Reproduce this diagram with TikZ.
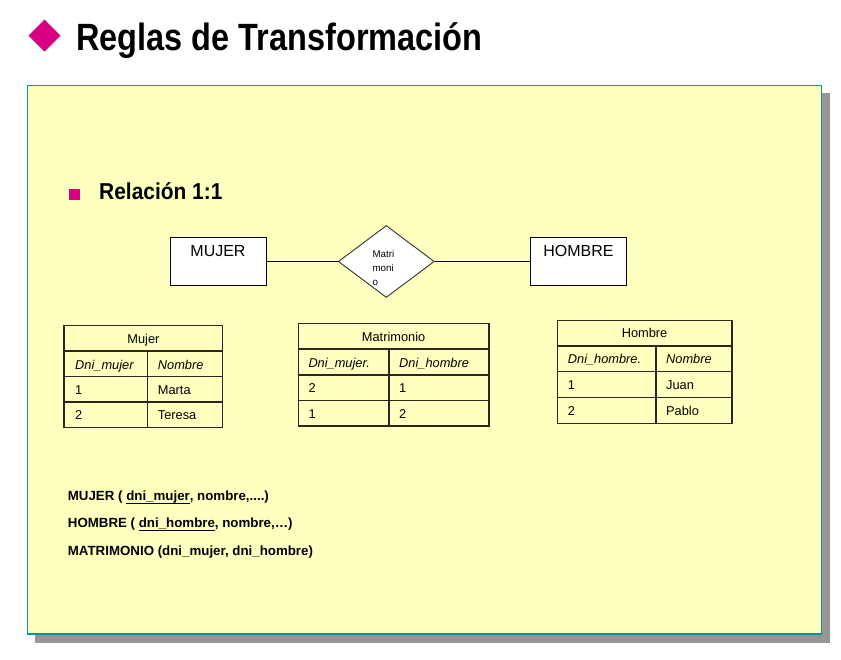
\documentclass[tikz,border=0pt]{standalone}
\usepackage{fontspec}
\setmainfont{Liberation Sans}
\usetikzlibrary{shapes.geometric}
\definecolor{paper}{RGB}{255,255,192}
\definecolor{tealline}{RGB}{0,153,153}
\definecolor{shadowgray}{RGB}{150,150,150}
\definecolor{magentab}{RGB}{214,0,128}
\definecolor{gridline}{RGB}{40,40,30}
\newcommand{\myul}[1]{\setbox0\hbox{#1}\rlap{\rule[-3.4pt]{\wd0}{1.1pt}}\box0}
\newcommand{\fs}[1]{\fontsize{#1}{#1}\selectfont}
\begin{document}
\begin{tikzpicture}[x=1pt,y=-1pt,
  txt/.style={inner sep=0pt, anchor=base west},
  ctxt/.style={inner sep=0pt, anchor=base},
  cell/.style={txt, font=\fs{12.8}},
  hcell/.style={ctxt, font=\fs{12.8}},
  icell/.style={txt, font=\fs{12.8}\itshape},
  grid/.style={draw=gridline, line width=1.4pt},
  entity/.style={draw=black, fill=white, line width=0.9pt, minimum width=96pt, minimum height=48pt, inner sep=0pt},
  relation/.style={diamond, draw=black!80, fill=white, line width=0.9pt, minimum width=96pt, minimum height=72pt, inner sep=0pt},
  link/.style={draw=black, line width=0.9pt}]
\useasboundingbox (0,0) rectangle (841,659);
% title
\fill[magentab] (44.5,19.5) -- (60.5,35.5) -- (44.5,51.5) -- (28.5,35.5) -- cycle;
\node[txt] (title) at (76,50) {\fs{38}\bfseries\scalebox{0.855}[1]{Reglas de Transformación}};
% panel
\fill[shadowgray] (35,93) rectangle (830,643);
\draw[fill=paper, draw=tealline, line width=1.5pt] (27.5,85.5) rectangle (821.5,634);
% bullet
\fill[magentab] (69,189) rectangle (79.5,199.5);
\node[txt] (rel11) at (99,199.5) {\fs{23}\bfseries\scalebox{0.91}[1]{Relación 1:1}};
% ER diagram
\node[entity] (mujer) at (218,261.5) {};
\node[entity] (hombre) at (578,261.5) {};
\node[relation] (matr) at (386.3,261.5) {};
\node[ctxt, font=\fs{16}] (mujert) at (218,256.6) {MUJER};
\node[ctxt, font=\fs{16}] (hombret) at (578.5,256.6) {HOMBRE};
\node[txt, font=\fs{9.8}] (m1) at (372.3,257.7) {Matri};
\node[txt, font=\fs{9.8}] (m2) at (372.3,271.5) {moni};
\node[txt, font=\fs{9.8}] (m3) at (372.3,285.3) {o};
\draw[link] (mujer.east) -- (matr.west);
\draw[link] (matr.east) -- (hombre.west);
% table Mujer
\draw[grid] (64,325.3) rectangle (222.7,427.3);
\draw[grid] (64,351) -- (222.7,351) (64,376.3) -- (222.7,376.3) (64,402) -- (222.7,402);
\draw[grid] (147.3,351) -- (147.3,427.3);
\node[hcell] (tm0) at (143.4,343.3) {Mujer};
\node[icell] (tm1) at (75,369) {Dni\textunderscore mujer};
\node[icell] (tm2) at (157.7,369) {Nombre};
\node[cell] (tm3) at (75,394.2) {1};
\node[cell] (tm4) at (157.7,394.2) {Marta};
\node[cell] (tm5) at (75,419.5) {2};
\node[cell] (tm6) at (157.7,419.5) {Teresa};
% table Matrimonio
\draw[grid] (298.3,323.7) rectangle (489,426);
\draw[grid] (298.3,349) -- (489,349) (298.3,375) -- (489,375) (298.3,400.7) -- (489,400.7);
\draw[grid] (389,349) -- (389,426);
\node[hcell] (tr0) at (393.6,341.7) {Matrimonio};
\node[icell] (tr1) at (308.3,367.3) {Dni\textunderscore mujer.};
\node[icell] (tr2) at (399,367.3) {Dni\textunderscore hombre};
\node[cell] (tr3) at (308.3,392.8) {2};
\node[cell] (tr4) at (399,392.8) {1};
\node[cell] (tr5) at (308.3,418.2) {1};
\node[cell] (tr6) at (399,418.2) {2};
% table Hombre
\draw[grid] (557.3,320.3) rectangle (732,423.3);
\draw[grid] (557.3,346) -- (732,346) (557.3,371.7) -- (732,371.7) (557.3,397.3) -- (732,397.3);
\draw[grid] (656,346) -- (656,423.3);
\node[hcell] (th0) at (644.6,337.5) {Hombre};
\node[icell] (th1) at (567.7,363.5) {Dni\textunderscore hombre.};
\node[icell] (th2) at (666,363.5) {Nombre};
\node[cell] (th3) at (567.7,389.5) {1};
\node[cell] (th4) at (666,389.5) {Juan};
\node[cell] (th5) at (567.7,415) {2};
\node[cell] (th6) at (666,415) {Pablo};
% relational schema
\node[txt, font=\fs{13.3}\bfseries] (s1) at (67.7,500.7) {MUJER ( \myul{dni\textunderscore mujer}, nombre,....)};
\node[txt, font=\fs{13.3}\bfseries] (s2) at (67.7,527.5) {HOMBRE ( \myul{dni\textunderscore hombre}, nombre,…)};
\node[txt, font=\fs{13.3}\bfseries] (s3) at (67.7,555) {MATRIMONIO (dni\textunderscore mujer, dni\textunderscore hombre)};
\end{tikzpicture}
\end{document}
